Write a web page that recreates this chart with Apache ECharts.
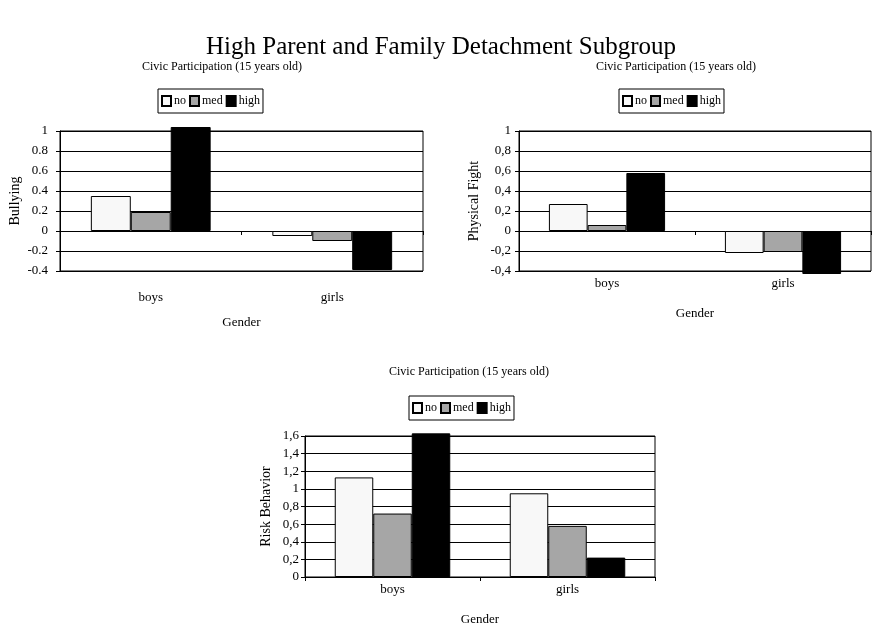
<!DOCTYPE html>
<html>
<head>
<meta charset="utf-8">
<script src="https://cdn.jsdelivr.net/npm/echarts@6/dist/echarts.min.js"></script>
<style>
html,body{margin:0;padding:0;background:#fff;}
#chart{width:872px;height:627px;}
</style>
</head>
<body>
<div id="chart"></div>
<script>
const categories = ['boys', 'girls'];
const seriesNames = ['no', 'med', 'high'];
// Chart 1: Bullying
const bullyNo = [0.35, -0.05];
const bullyMed = [0.19, -0.10];
const bullyHigh = [1.04, -0.39];
// Chart 2: Physical Fight
const fightNo = [0.27, -0.22];
const fightMed = [0.06, -0.21];
const fightHigh = [0.58, -0.43];
// Chart 3: Risk Behavior
const riskNo = [1.13, 0.95];
const riskMed = [0.72, 0.58];
const riskHigh = [1.63, 0.22];

const mainTitle = 'High Parent and Family Detachment Subgroup';
const subTitle = 'Civic Participation (15 years old)';
const yNames = ['Bullying', 'Physical Fight', 'Risk Behavior'];
const xName = 'Gender';

const FONT = '"Liberation Serif", "Times New Roman", serif';
const colors = ['#f8f8f8', '#a6a6a6', '#000000'];

const chart = echarts.init(document.getElementById('chart'), null, {renderer: 'canvas'});

const grids = [
  {left: 60, top: 131, width: 363, height: 140},
  {left: 519, top: 131, width: 352, height: 140},
  {left: 305, top: 436, width: 350, height: 141}
];

function fmt(sep) {
  return function (v) {
    const r = Math.round(v * 10) / 10;
    return String(r).replace('.', sep);
  };
}

const yConf = [
  {min: -0.4, max: 1, sep: '.', margin: 12, nameGap: 38},
  {min: -0.4, max: 1, sep: ',', margin: 8, nameGap: 38},
  {min: 0, max: 1.6, sep: ',', margin: 6, nameGap: 32}
];
const xConf = [
  {labelMargin: 20, nameGap: 45},
  {labelMargin: 6, nameGap: 36},
  {labelMargin: 6, nameGap: 36}
];

const xAxes = [];
const yAxes = [];
grids.forEach((g, i) => {
  // axis line at zero with ticks
  xAxes.push({
    type: 'category', gridIndex: i, data: categories,
    axisLine: {onZero: true, lineStyle: {color: '#000', width: 1}},
    axisTick: {show: true, length: 4, lineStyle: {color: '#000'}},
    axisLabel: {show: false},
    splitLine: {show: false}
  });
  // labels axis at the bottom
  xAxes.push({
    type: 'category', gridIndex: i, data: categories, position: 'bottom',
    axisLine: {show: false}, axisTick: {show: false},
    axisLabel: {show: true, margin: xConf[i].labelMargin, color: '#000', fontFamily: FONT, fontSize: 13},
    name: xName, nameLocation: 'middle', nameGap: xConf[i].nameGap,
    nameTextStyle: {color: '#000', fontFamily: FONT, fontSize: 13}
  });
  yAxes.push({
    type: 'value', gridIndex: i, min: yConf[i].min, max: yConf[i].max, interval: 0.2,
    axisLine: {show: true, lineStyle: {color: '#000', width: 1}},
    axisTick: {show: true, length: 4, lineStyle: {color: '#000'}},
    axisLabel: {margin: yConf[i].margin, color: '#000', fontFamily: FONT, fontSize: 13, formatter: fmt(yConf[i].sep)},
    splitLine: {show: true, lineStyle: {color: '#000', width: 1}},
    name: yNames[i], nameLocation: 'middle', nameRotate: 90, nameGap: yConf[i].nameGap,
    nameTextStyle: {color: '#000', fontFamily: FONT, fontSize: 14}
  });
});

const dataSets = [
  [bullyNo, bullyMed, bullyHigh],
  [fightNo, fightMed, fightHigh],
  [riskNo, riskMed, riskHigh]
];
const series = [];
dataSets.forEach((set, gi) => {
  set.forEach((vals, si) => {
    series.push({
      name: seriesNames[si], type: 'bar',
      xAxisIndex: gi * 2, yAxisIndex: gi,
      data: vals,
      barGap: '0%', barCategoryGap: '34%',
      clip: false,
      itemStyle: {color: colors[si], borderColor: '#000', borderWidth: 1},
      emphasis: {disabled: true},
      animation: false
    });
  });
});

const legendLefts = [[158, 89], [619, 89], [409, 396]];
const legends = legendLefts.map(p => ({
  data: seriesNames, left: p[0], top: p[1], orient: 'horizontal',
  icon: 'rect', itemWidth: 9, itemHeight: 10, itemGap: 3,
  padding: [6, 3, 6, 3], borderColor: '#000', borderWidth: 1,
  textStyle: {color: '#000', fontFamily: FONT, fontSize: 12, padding: [0, 0, 0, -2]},
  selectedMode: false
}));

chart.setOption({
  backgroundColor: '#fff',
  animation: false,
  title: [
    {text: mainTitle, left: 436, top: 30, textAlign: 'center',
     textStyle: {fontFamily: FONT, fontSize: 25, fontWeight: 'normal', color: '#000'}},
    {text: subTitle, left: 217, top: 56, textAlign: 'center',
     textStyle: {fontFamily: FONT, fontSize: 12, fontWeight: 'normal', color: '#000'}},
    {text: subTitle, left: 671, top: 56, textAlign: 'center',
     textStyle: {fontFamily: FONT, fontSize: 12, fontWeight: 'normal', color: '#000'}},
    {text: subTitle, left: 464, top: 361, textAlign: 'center',
     textStyle: {fontFamily: FONT, fontSize: 12, fontWeight: 'normal', color: '#000'}}
  ],
  legend: legends,
  grid: grids.map(g => Object.assign({show: true, borderColor: '#000', borderWidth: 1, backgroundColor: 'transparent'}, g)),
  xAxis: xAxes,
  yAxis: yAxes,
  series: series
});
</script>
</body>
</html>
